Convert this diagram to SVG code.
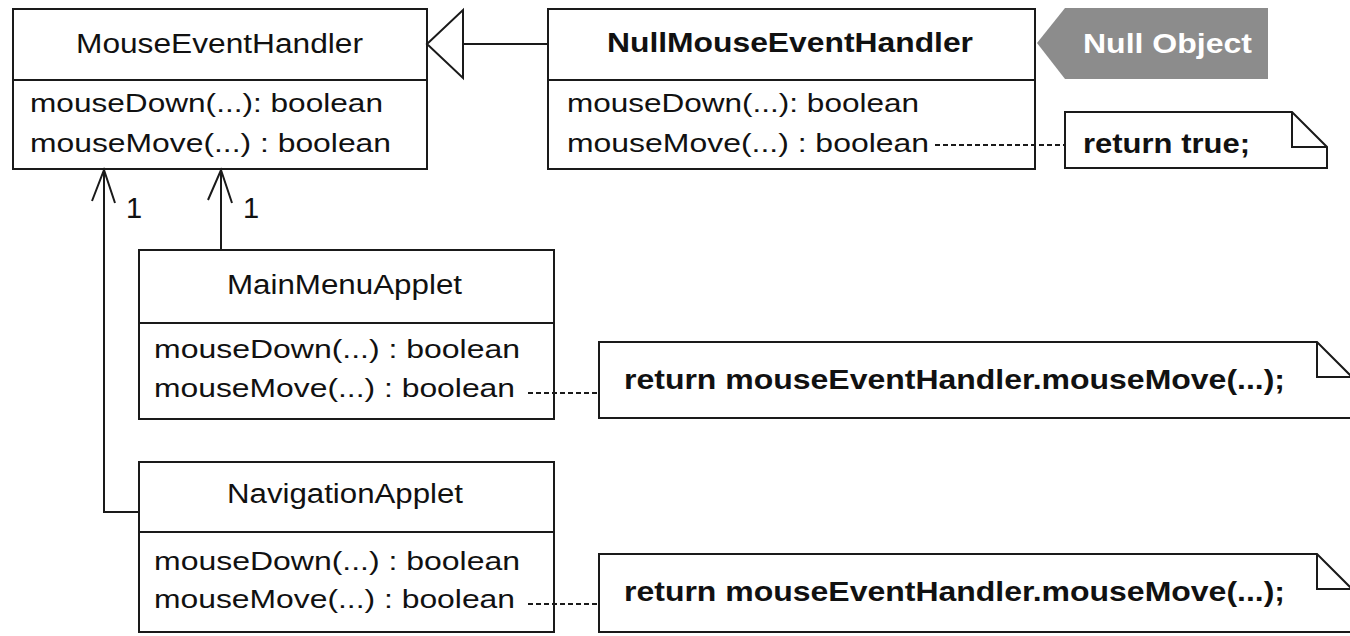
<svg xmlns="http://www.w3.org/2000/svg" width="1350" height="636" viewBox="0 0 1350 636">
<style>
.box{fill:#fff;stroke:#1a1a1a;stroke-width:2}
.ln{fill:none;stroke:#1a1a1a;stroke-width:2}
.dash{fill:none;stroke:#1a1a1a;stroke-width:2;stroke-dasharray:5 3}
.t{font-family:"Liberation Sans",Arial,sans-serif;font-size:27px;fill:#111}
.m{font-family:"Liberation Sans",Arial,sans-serif;font-size:26px;fill:#111}
.b{font-family:"Liberation Sans",Arial,sans-serif;font-size:27px;font-weight:bold;fill:#111}
.w{font-family:"Liberation Sans",Arial,sans-serif;font-size:27px;font-weight:bold;fill:#fff}
.mult{font-family:"Liberation Sans",Arial,sans-serif;font-size:29px;fill:#111}
</style>
<rect width="1350" height="636" fill="#fff"/>
<g id="MouseEventHandler">
<rect class="box" x="13" y="9" width="414" height="160"/>
<line class="ln" x1="13" y1="80" x2="427" y2="80"/>
<text class="t" x="76" y="53" textLength="287" lengthAdjust="spacingAndGlyphs">MouseEventHandler</text>
<text class="m" x="30" y="112" textLength="353" lengthAdjust="spacingAndGlyphs">mouseDown(...): boolean</text>
<text class="m" x="30" y="152" textLength="361" lengthAdjust="spacingAndGlyphs">mouseMove(...) : boolean</text>
</g>
<g id="NullMouseEventHandler">
<rect class="box" x="548" y="9" width="487" height="160"/>
<line class="ln" x1="548" y1="80" x2="1035" y2="80"/>
<text class="b" x="607" y="52" textLength="366" lengthAdjust="spacingAndGlyphs">NullMouseEventHandler</text>
<text class="m" x="567" y="112" textLength="352" lengthAdjust="spacingAndGlyphs">mouseDown(...): boolean</text>
<text class="m" x="567" y="152" textLength="362" lengthAdjust="spacingAndGlyphs">mouseMove(...) : boolean</text>
</g>
<g id="NullObjectTag">
<polygon points="1037,43 1065,8 1268,8 1268,79 1065,79" fill="#8c8c8c"/>
<text class="w" x="1083" y="53" textLength="169" lengthAdjust="spacingAndGlyphs">Null Object</text>
</g>
<g id="NoteReturnTrue">
<polygon class="box" points="1065,112 1292,112 1327,147 1327,168 1065,168"/>
<polyline class="ln" points="1292,112 1292,147 1327,147"/>
<text class="b" x="1083" y="153" textLength="167" lengthAdjust="spacingAndGlyphs">return true;</text>
</g>
<g id="MainMenuApplet">
<rect class="box" x="139" y="250" width="415" height="169"/>
<line class="ln" x1="139" y1="323" x2="554" y2="323"/>
<text class="t" x="227" y="294" textLength="235" lengthAdjust="spacingAndGlyphs">MainMenuApplet</text>
<text class="m" x="154" y="358" textLength="366" lengthAdjust="spacingAndGlyphs">mouseDown(...) : boolean</text>
<text class="m" x="154" y="397" textLength="361" lengthAdjust="spacingAndGlyphs">mouseMove(...) : boolean</text>
</g>
<g id="NoteMainMenu">
<polygon class="box" points="599,342 1317,342 1352,377 1352,418 599,418"/>
<polyline class="ln" points="1317,342 1317,377 1352,377"/>
<text class="b" x="624" y="389" textLength="661" lengthAdjust="spacingAndGlyphs">return mouseEventHandler.mouseMove(...);</text>
</g>
<g id="NavigationApplet">
<rect class="box" x="139" y="462" width="415" height="170"/>
<line class="ln" x1="139" y1="532" x2="554" y2="532"/>
<text class="t" x="227" y="503" textLength="236" lengthAdjust="spacingAndGlyphs">NavigationApplet</text>
<text class="m" x="154" y="570" textLength="366" lengthAdjust="spacingAndGlyphs">mouseDown(...) : boolean</text>
<text class="m" x="154" y="608" textLength="361" lengthAdjust="spacingAndGlyphs">mouseMove(...) : boolean</text>
</g>
<g id="NoteNavigation">
<polygon class="box" points="599,554 1317,554 1352,589 1352,632 599,632"/>
<polyline class="ln" points="1317,554 1317,589 1352,589"/>
<text class="b" x="624" y="601" textLength="661" lengthAdjust="spacingAndGlyphs">return mouseEventHandler.mouseMove(...);</text>
</g>
<g id="connectors">
<line class="ln" x1="463" y1="44" x2="548" y2="44"/>
<polygon class="box" points="427,44 463,10 463,78"/>
<polyline class="ln" points="104,170 104,512 139,512"/>
<polyline class="ln" points="92,201 104,170 115,203"/>
<line class="ln" x1="221" y1="170" x2="221" y2="250"/>
<polyline class="ln" points="208,200 221,170 232,203"/>
<text class="mult" x="126" y="218">1</text>
<text class="mult" x="243" y="218">1</text>
<line class="dash" x1="935" y1="145" x2="1065" y2="145"/>
<line class="dash" x1="528" y1="393" x2="599" y2="393"/>
<line class="dash" x1="528" y1="604" x2="599" y2="604"/>
</g>
</svg>
